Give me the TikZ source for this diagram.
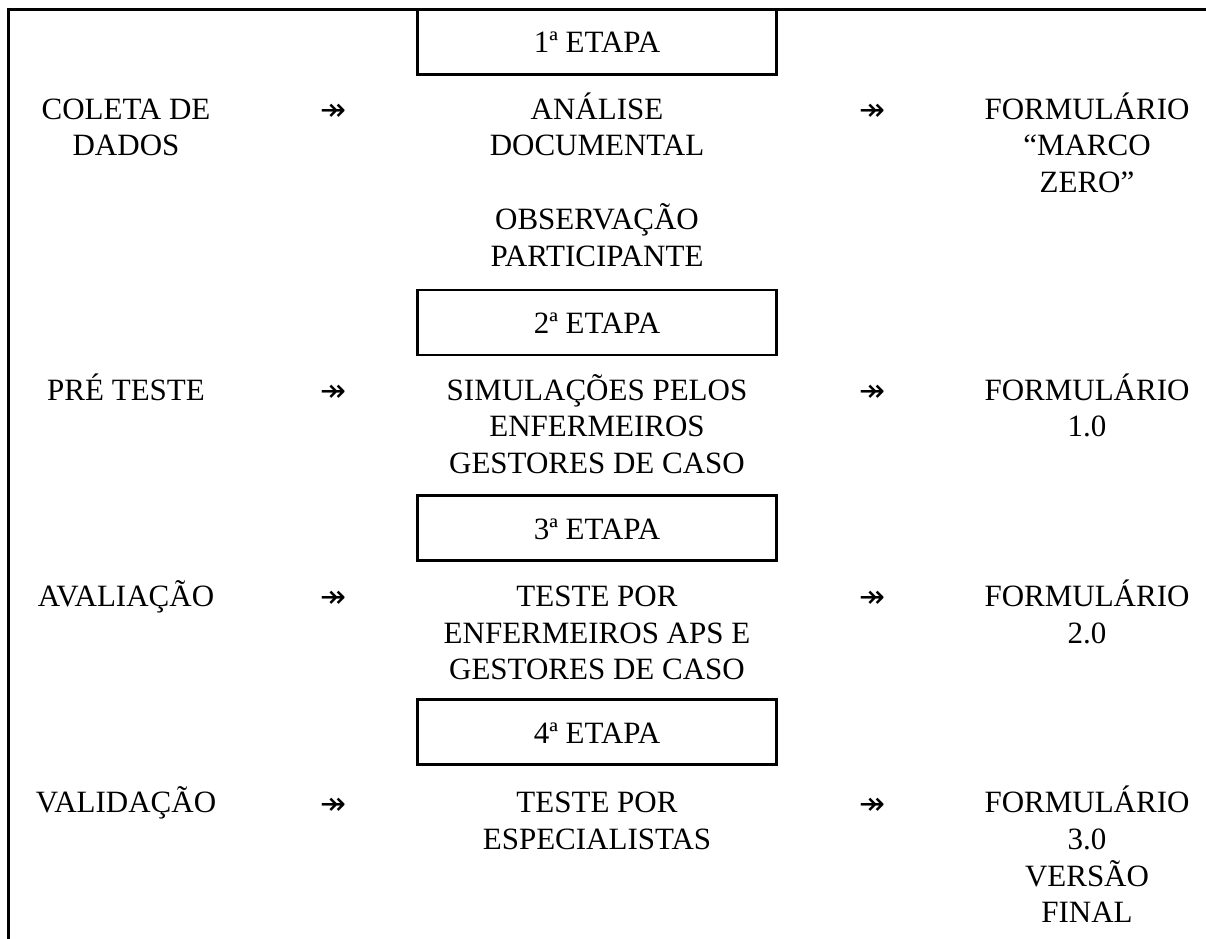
\documentclass[tikz,border=0pt]{standalone}
\usepackage{fontspec}
\setmainfont{Liberation Serif}
\newfontfamily\arrowfont{DejaVu Sans}
\begin{document}
\begin{tikzpicture}[x=1pt,y=-1pt,
  frame/.style={line width=2.6pt, line cap=rect},
  stagebox/.style={draw, line width=2.6pt, minimum width=359pt, minimum height=65pt,
    inner sep=0pt, text height=22pt, text depth=0pt,
    font=\fontsize{31}{36.7}\selectfont},
  txt/.style={anchor=base, align=center, inner sep=0pt,
    font=\fontsize{31}{36.7}\selectfont},
  arr/.style={inner sep=0pt, font=\arrowfont\fontsize{31}{36.7}\selectfont}]
\useasboundingbox (0,0) rectangle (1206,938);
\fill[white] (0,0) rectangle (1206,938);
% frame lines
\coordinate (tr) at (1206,9.5);
\coordinate (tl) at (8.7,9.5);
\coordinate (bl) at (8.7,938);
\draw[frame] (tr) -- (tl) -- (bl);
% stage boxes
\node[stagebox] (e1) at (597,41.7) {1ª ETAPA};
\node[stagebox] (e2) at (597,322.3) {2ª ETAPA};
\node[stagebox] (e3) at (597,528) {3ª ETAPA};
\node[stagebox] (e4) at (597,732) {4ª ETAPA};
% row 1 (anchor = baseline of the last line)
\node[txt] (l1) at (126,155.7) {COLETA DE\\DADOS};
\node[arr] (a1) at (333.5,112.3) {↠};
\node[txt] (m1) at (597,155.7) {ANÁLISE\\DOCUMENTAL};
\node[txt] (m1b) at (597,266.2) {OBSERVAÇÃO\\PARTICIPANTE};
\node[arr] (b1) at (872.5,112.3) {↠};
\node[txt] (r1) at (1087,192.4) {FORMULÁRIO\\“MARCO\\ZERO”};
% row 2
\node[txt] (l2) at (126,400) {PRÉ TESTE};
\node[arr] (a2) at (333.5,393.3) {↠};
\node[txt] (m2) at (597,473.4) {SIMULAÇÕES PELOS\\ENFERMEIROS\\GESTORES DE CASO};
\node[arr] (b2) at (872.5,393.3) {↠};
\node[txt] (r2) at (1087,436.7) {FORMULÁRIO\\1.0};
% row 3
\node[txt] (l3) at (126,606.3) {AVALIAÇÃO};
\node[arr] (a3) at (333.5,599.6) {↠};
\node[txt] (m3) at (597,679.7) {TESTE POR\\ENFERMEIROS APS E\\GESTORES DE CASO};
\node[arr] (b3) at (872.5,599.6) {↠};
\node[txt] (r3) at (1087,643) {FORMULÁRIO\\2.0};
% row 4
\node[txt] (l4) at (126,812.6) {VALIDAÇÃO};
\node[arr] (a4) at (333.5,805.9) {↠};
\node[txt] (m4) at (597,849.3) {TESTE POR\\ESPECIALISTAS};
\node[arr] (b4) at (872.5,805.9) {↠};
\node[txt] (r4) at (1087,922.7) {FORMULÁRIO\\3.0\\VERSÃO\\FINAL};
\end{tikzpicture}
\end{document}
